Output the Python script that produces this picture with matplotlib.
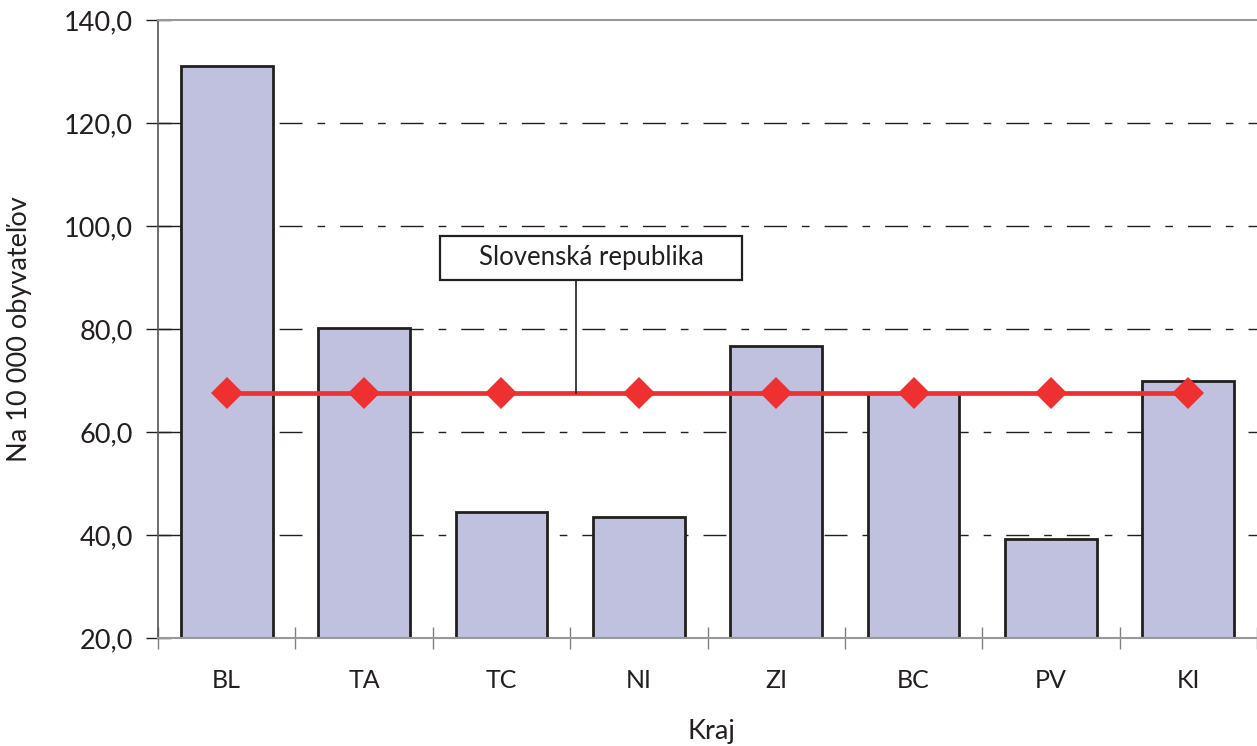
import matplotlib
matplotlib.use("Agg")
import matplotlib.pyplot as plt
from matplotlib.patches import Rectangle
import numpy as np

categories = ["BL", "TA", "TC", "NI", "ZI", "BC", "PV", "KI"]
values = [131.1, 80.2, 44.4, 43.5, 76.7, 67.6, 39.3, 70.0]
sr_value = 67.6
sr_label = "Slovenská republika"
yticks = [20, 40, 60, 80, 100, 120, 140]
ytick_labels = ["20,0", "40,0", "60,0", "80,0", "100,0", "120,0", "140,0"]

plt.rcParams['font.family'] = ['Lato', 'DejaVu Sans']

W, H = 1257, 746
fig = plt.figure(figsize=(W / 100, H / 100), dpi=100)
ax = fig.add_axes([158 / W, 1 - 638 / H, (W - 158) / W, (638 - 20) / H])

x = np.arange(len(categories))
ax.bar(x, [v - 20 for v in values], bottom=20, width=0.667, color="#C0C0DF",
       edgecolor="#231F20", linewidth=2.0, zorder=2)

ax.plot(x, [sr_value] * len(x), color="#EE3030", linewidth=3.4,
        marker="D", markersize=16, markeredgewidth=0, zorder=3)

ax.set_ylim(20, 140)
ax.set_xlim(-0.5, -0.5 + (W - 158) / 138.1)

ax.set_yticks(yticks)
ax.set_yticklabels(ytick_labels, fontsize=19.5, color="#231F20")
ax.set_xticks(x)
ax.set_xticklabels(categories, fontsize=18, color="#231F20")
ax.tick_params(axis='x', length=0, pad=22)
ax.tick_params(axis='y', direction='inout', length=18, width=1, color="#231F20", pad=9)

# category boundary ticks
ax.set_xticks(np.arange(-0.5, len(categories), 1.0), minor=True)
ax.tick_params(axis='x', which='minor', direction='inout', length=16, width=1, color="#808080")

for yv in yticks[1:-1]:
    ax.axhline(yv, color="#231F20", linewidth=1.0, dashes=(16.5, 10.8, 5.5, 10.8), zorder=1)

ax.spines["right"].set_visible(False)
ax.spines["left"].set_color("#555555")
ax.spines["left"].set_linewidth(1.2)
ax.spines["top"].set_color("#999999")
ax.spines["top"].set_linewidth(1.5)
ax.spines["bottom"].set_color("#999999")
ax.spines["bottom"].set_linewidth(1.5)

ax.set_ylabel("Na 10 000 obyvateľov", fontsize=19.5, color="#231F20")
ax.yaxis.set_label_coords(-(158 - 20) / (W - 158), 0.5)
ax.set_xlabel("Kraj", fontsize=19.5, color="#231F20")
ax.xaxis.set_label_coords(0.5 - (((W - 158) / 2 + 158) - 711) / (W - 158), -(732 - 638) / (638 - 20))
ax.xaxis.label.set_va("center")
ax.yaxis.label.set_va("center")

# annotation box with leader line (axes-fraction coordinates)
def fx(px):
    return (px - 158) / (W - 158)

def fy(py):
    return (638 - py) / (638 - 20)

ax.plot([fx(576), fx(576)], [fy(393), fy(280)], transform=ax.transAxes,
        color="#231F20", linewidth=1.2, zorder=4)
ax.add_patch(Rectangle((fx(440), fy(280)), fx(742) - fx(440), fy(236) - fy(280),
                       transform=ax.transAxes, facecolor="white", edgecolor="#231F20",
                       linewidth=1.6, zorder=5))
ax.text((fx(440) + fx(742)) / 2, fy(258), sr_label, transform=ax.transAxes,
        fontsize=18.5, color="#231F20", ha="center", va="center", zorder=6)

fig.savefig("out.png", dpi=100)
